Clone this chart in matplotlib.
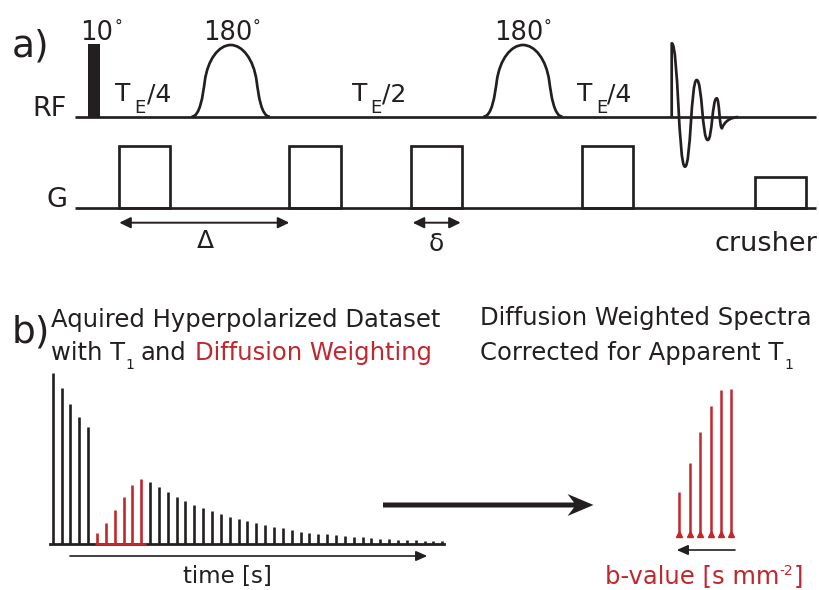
import numpy as np
import matplotlib
matplotlib.use('Agg')
import matplotlib.pyplot as plt
from matplotlib.path import Path
from matplotlib.patches import PathPatch, Rectangle

plt.rcParams['font.family'] = ['DejaVu Sans']

# peak amplitudes (a.u.)
initial_peaks = [171.3, 156.0, 140.0, 127.3, 117.3]
dw_peaks = [11.3, 21.3, 34.0, 47.3, 58.7, 64.7]
decay_peaks = [62.3, 56.7, 51.7, 47.3, 43.0, 39.3, 35.7, 32.7, 30.0, 27.3,
               25.0, 22.7, 21.0, 19.3, 17.3, 16.0, 13.8, 12.5, 11.5, 10.5,
               9.8, 8.8, 8.2, 7.5, 6.8, 6.2, 5.5, 5.0, 4.5, 4.2,
               3.8, 3.5, 3.2, 2.8]
corrected_peaks = [42.3, 70.7, 102.3, 128.3, 144.3, 145.0]

# gradient lobes of the sequence (left, right)
diff_lobes = [(119.3, 170.3), (289.3, 340.7), (411.0, 461.7), (581.7, 632.7)]
crusher_lobe = (755.0, 806.0)

K = '#231f20'
RED = '#c1272d'
W, H = 819, 590

fig = plt.figure(figsize=(W / 100, H / 100), dpi=100)
ax = fig.add_axes([0, 0, 1, 1])
ax.set_xlim(0, W)
ax.set_ylim(H, 0)
ax.axis('off')
r = fig.canvas.get_renderer()


def right_edge(t):
    # x of the right side of a text, in pixels (= data units of ax)
    return t.get_window_extent(renderer=r).x1


lw = 1.95
rf_y, g_y = 116.7, 208.3

### a) pulse sequence
ax.plot([75, 816], [rf_y, rf_y], color=K, lw=lw, solid_capstyle='butt')
ax.plot([75, 816], [g_y, g_y], color=K, lw=lw, solid_capstyle='butt')
ax.add_patch(Rectangle((87.7, 44.3), 12.3, rf_y - 44.3, color=K, lw=0))


def pulse(c, hw, base, top):
    h = base - top
    left = [(c - hw, base), (c - 0.78 * hw, base), (c - 0.71 * hw, base - 0.3 * h),
            (c - 0.66 * hw, base - 0.5 * h), (c - 0.585 * hw, base - 0.8 * h),
            (c - 0.3 * hw, top), (c, top)]
    right = [(2 * c - x, y) for x, y in left[::-1]][1:]
    verts = left + right
    codes = [Path.MOVETO] + [Path.CURVE4] * (len(verts) - 1)
    return PathPatch(Path(verts, codes), fill=False, ec=K, lw=lw)


ax.add_patch(pulse(230.7, 39.2, rf_y, 45))
ax.add_patch(pulse(523.0, 39.7, rf_y, 45))

for x0, x1 in diff_lobes:
    ax.add_patch(Rectangle((x0, 145.7), x1 - x0, g_y - 145.7, fill=False, ec=K, lw=lw))
ax.add_patch(Rectangle((crusher_lobe[0], 176.7), crusher_lobe[1] - crusher_lobe[0],
                       g_y - 176.7, fill=False, ec=K, lw=lw))

# FID
ext = [(671.7, 43.3), (685, 166.7), (696.7, 80), (707.7, 140), (716.7, 98.3), (722, 128.3)]
verts = [(671.7, rf_y), ext[0]]
codes = [Path.MOVETO, Path.LINETO]
for (x0, y0), (x1, y1) in zip(ext[:-1], ext[1:]):
    dx = x1 - x0
    verts += [(x0 + 0.5 * dx, y0), (x1 - 0.5 * dx, y1), (x1, y1)]
    codes += [Path.CURVE4] * 3
verts += [(724.5, 121.5), (730, 117.5), (738.3, 117)]
codes += [Path.CURVE4] * 3
ax.add_patch(PathPatch(Path(verts, codes), fill=False, ec=K, lw=lw, joinstyle='round'))

# arrows Delta / delta
arr = dict(arrowstyle='<|-|>,head_length=0.45,head_width=0.22', lw=1.4, color=K,
           shrinkA=0, shrinkB=0, mutation_scale=15)
ax.annotate('', xy=(119.3, 222.7), xytext=(289.3, 222.7), arrowprops=arr)
ax.annotate('', xy=(412.7, 222.7), xytext=(460.7, 222.7), arrowprops=arr)

# text, panel a
ax.text(12, 57, 'a)', fontsize=27, color=K)
for x, s in [(80.5, '10'), (203, '180'), (494, '180')]:
    t = ax.text(x, 40, s, fontsize=18.5, color=K)
    ax.text(right_edge(t) + 0.5, 31, '°', fontsize=11, color=K)
ax.text(67, 115.7, 'RF', fontsize=19.5, color=K, ha='right')
ax.text(67, 206.7, 'G', fontsize=19.5, color=K, ha='right')
for xt, xe, xs, s in [(115, 134, 147, '/4'), (352, 370, 382, '/2'), (577, 596, 607, '/4')]:
    ax.text(xt, 101, 'T', fontsize=18, color=K)
    ax.text(xe, 113, 'E', fontsize=13, color=K)
    ax.text(xs, 101, s, fontsize=18, color=K)
ax.text(205, 248, 'Δ', fontsize=18, color=K, ha='center')
ax.text(436, 251, 'δ', fontsize=18, color=K, ha='center')
ax.text(817, 250.7, 'crusher', fontsize=19.5, color=K, ha='right')

### b) hyperpolarized dataset
ax.text(12, 343, 'b)', fontsize=27, color=K)
ax.text(51, 326.7, 'Aquired Hyperpolarized Dataset', fontsize=17.5, color=K)
ax.text(51, 360, 'with T', fontsize=17.5, color=K)
ax.text(125.5, 369.3, '1', fontsize=10, color=K)
ax.text(140.5, 360, 'and', fontsize=17.5, color=K)
ax.text(195, 360, 'Diffusion Weighting', fontsize=17.5, color=RED)
ax.text(479.5, 325, 'Diffusion Weighted Spectra', fontsize=17.5, color=K)
ax.text(479.5, 360, 'Corrected for Apparent T', fontsize=17.5, color=K)
ax.text(784, 369, '1', fontsize=10, color=K)
ax.text(227, 583, 'time [s]', fontsize=16.5, color=K, ha='center')
t = ax.text(605, 583, 'b-value [s mm', fontsize=17.5, color=RED)
t = ax.text(right_edge(t) + 0.5, 575, '-2', fontsize=10, color=RED)
ax.text(right_edge(t) + 0.5, 583, ']', fontsize=17.5, color=RED)

# acquired series
n0, n1 = len(initial_peaks), len(dw_peaks)
idx_init = np.arange(n0)
idx_dw = np.arange(n0, n0 + n1)
idx_decay = np.arange(n0 + n1, n0 + n1 + len(decay_peaks))

ax_l = fig.add_axes([50 / W, 1 - 544 / H, 394 / W, 184 / H])
ax_l.set_xlim(-0.305, 44.2)
ax_l.set_ylim(0, 184)
ax_l.axis('off')
ax_l.axhline(0, color=K, lw=2.0, clip_on=False)
ax_l.hlines(0, idx_dw[0] - 0.25, idx_dw[-1] + 0.5, color=RED, lw=2.0, clip_on=False)
ax_l.vlines(idx_init, 0, initial_peaks, color=K, lw=1.9, clip_on=False)
ax_l.vlines(idx_dw, 0, dw_peaks, color=RED, lw=1.9, clip_on=False)
ax_l.vlines(idx_decay, 0, decay_peaks, color=K, lw=1.9, clip_on=False)

# corrected spectra
ax_r = fig.add_axes([670 / W, 1 - 534 / H, 75 / W, 154 / H])
ax_r.set_xlim(-0.894, 6.317)
ax_r.set_ylim(0, 154)
ax_r.axis('off')
idx_b = np.arange(len(corrected_peaks))
ax_r.vlines(idx_b, 0, corrected_peaks, color=RED, lw=1.8, clip_on=False)
ax_r.plot(idx_b, np.zeros(len(idx_b)), '^', color=RED, ms=4, clip_on=False)

# arrows panel b
thin = dict(arrowstyle='-|>,head_length=0.45,head_width=0.2', lw=1.2, color=K,
            shrinkA=0, shrinkB=0, mutation_scale=15)
ax.annotate('', xy=(427.3, 556), xytext=(70, 556), arrowprops=thin)
ax.annotate('', xy=(676.7, 550), xytext=(735, 550), arrowprops=thin)
ax.arrow(383, 505, 210.5, 0, width=5, head_width=22, head_length=26,
         length_includes_head=True, overhang=0.25, color=K, lw=0)

fig.savefig('out.png', dpi=100)
